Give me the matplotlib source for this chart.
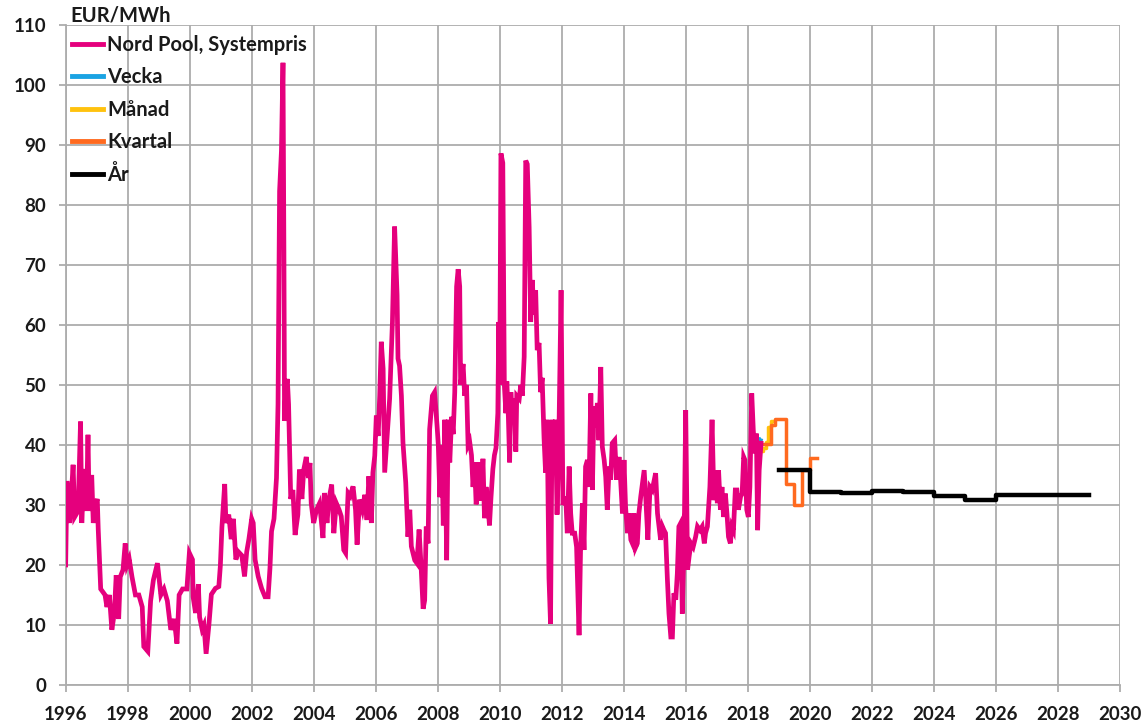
import matplotlib
matplotlib.use("Agg")
import matplotlib.pyplot as plt
import numpy as np

# ---------------- data ----------------
# Nord Pool system price (EUR/MWh)
sys_years_1 = [1996.00, 1996.04, 1996.13, 1996.24, 1996.29, 1996.40, 1996.48, 1996.52, 1996.59, 1996.67,
               1996.72, 1996.76, 1996.84, 1996.89, 1996.95, 1997.02, 1997.05, 1997.13, 1997.27, 1997.33,
               1997.41, 1997.49, 1997.57, 1997.63, 1997.71, 1997.76, 1997.85, 1997.92, 1997.98, 1998.05,
               1998.14, 1998.25, 1998.36, 1998.47, 1998.52, 1998.65, 1998.74, 1998.83, 1998.96, 1999.07,
               1999.17, 1999.28, 1999.39, 1999.50, 1999.59, 1999.66, 1999.77, 1999.91, 1999.99]
sys_price_1 = [20.0, 34.0, 27.0, 36.7, 28.0, 29.0, 43.9, 27.0, 36.0, 29.0,
               41.7, 29.0, 35.0, 27.0, 30.0, 31.0, 26.0, 16.0, 15.0, 13.0,
               15.0, 9.2, 12.0, 18.3, 11.0, 18.0, 19.2, 23.6, 20.0, 21.0,
               18.0, 15.0, 15.0, 13.0, 6.4, 5.6, 14.0, 17.5, 20.3, 15.0,
               16.0, 14.0, 9.2, 11.0, 6.9, 15.0, 16.0, 16.0, 22.0]

sys_years_2 = [2000.09, 2000.11, 2000.19, 2000.28, 2000.32, 2000.40, 2000.46, 2000.53, 2000.62, 2000.70,
               2000.83, 2000.94, 2000.99, 2001.04, 2001.13, 2001.17, 2001.26, 2001.34, 2001.41, 2001.49,
               2001.57, 2001.68, 2001.77, 2001.84, 2001.91, 2002.00, 2002.05, 2002.11, 2002.21, 2002.32,
               2002.43, 2002.53, 2002.59, 2002.64, 2002.72, 2002.80, 2002.85, 2002.90, 2002.96, 2003.01,
               2003.04, 2003.06, 2003.10, 2003.15, 2003.19, 2003.26, 2003.33, 2003.40, 2003.49, 2003.54,
               2003.62, 2003.68, 2003.76, 2003.83, 2003.88, 2003.92]
sys_price_2 = [20.9, 14.7, 12.0, 16.8, 11.3, 9.3, 10.0, 5.2, 10.0, 15.1,
               16.1, 16.4, 19.9, 26.3, 33.5, 27.0, 28.4, 24.3, 27.7, 20.9,
               22.2, 21.6, 18.1, 22.2, 24.3, 27.7, 27.0, 20.9, 18.1, 16.1,
               14.7, 14.7, 19.5, 25.6, 27.7, 34.5, 46.8, 82.3, 89.0, 103.7,
               72.0, 44.0, 49.5, 51.0, 46.8, 31.0, 32.5, 25.0, 28.4, 35.9,
               31.0, 35.9, 38.0, 34.5, 37.0, 30.3]

sys_years_3 = [2004.00, 2004.09, 2004.19, 2004.30, 2004.35, 2004.43, 2004.49, 2004.58, 2004.65, 2004.73,
               2004.82, 2004.89, 2004.97, 2005.03, 2005.11, 2005.18, 2005.27, 2005.35, 2005.40, 2005.48,
               2005.57, 2005.65, 2005.72, 2005.78, 2005.86, 2005.91, 2005.97, 2006.02, 2006.08, 2006.13,
               2006.18, 2006.24, 2006.29, 2006.37, 2006.45, 2006.54, 2006.61, 2006.69, 2006.72, 2006.77,
               2006.83, 2006.88, 2006.97, 2007.04, 2007.10, 2007.15, 2007.26, 2007.33, 2007.40, 2007.47,
               2007.53, 2007.58, 2007.63, 2007.69, 2007.74, 2007.83, 2007.90, 2007.98]
sys_price_3 = [27.0, 29.2, 30.3, 24.5, 32.0, 27.0, 30.9, 33.4, 25.3, 30.3,
               29.2, 28.1, 22.5, 22.0, 32.0, 31.5, 33.1, 29.2, 23.4, 30.9,
               29.2, 31.7, 27.5, 34.8, 27.0, 35.4, 38.2, 44.9, 41.5, 48.2,
               57.2, 52.7, 35.4, 41.5, 47.7, 60.5, 76.4, 65.0, 54.4, 53.2,
               48.2, 40.4, 33.7, 24.7, 29.2, 23.1, 20.8, 20.3, 25.9, 19.2,
               12.7, 14.1, 26.4, 23.6, 42.6, 48.2, 48.8, 43.2]

sys_years_4 = [2008.02, 2008.07, 2008.13, 2008.18, 2008.23, 2008.29, 2008.34, 2008.39, 2008.45, 2008.50,
               2008.55, 2008.61, 2008.66, 2008.71, 2008.74, 2008.82, 2008.87, 2008.93, 2008.98, 2009.03,
               2009.09, 2009.14, 2009.19, 2009.24, 2009.30, 2009.35, 2009.40, 2009.46, 2009.51, 2009.56,
               2009.62, 2009.67, 2009.72, 2009.78, 2009.83, 2009.88, 2009.94, 2009.97, 2010.00, 2010.04,
               2010.10, 2010.15, 2010.20, 2010.23, 2010.28, 2010.32, 2010.36, 2010.41, 2010.47, 2010.52,
               2010.55, 2010.63, 2010.68, 2010.73, 2010.79, 2010.84, 2010.89, 2010.95, 2011.00, 2011.05,
               2011.11, 2011.16, 2011.21, 2011.27, 2011.32, 2011.37, 2011.43, 2011.48, 2011.53, 2011.59,
               2011.64, 2011.69, 2011.74, 2011.80, 2011.85, 2011.90, 2011.98, 2012.04]
sys_price_4 = [40.0, 31.3, 40.0, 26.6, 44.2, 20.8, 44.2, 37.1, 44.7, 41.8,
               48.8, 66.4, 69.3, 66.4, 50.0, 53.5, 48.2, 50.0, 40.0, 40.6,
               38.3, 33.0, 37.1, 30.1, 32.5, 37.1, 30.7, 37.7, 27.8, 33.0,
               30.1, 26.6, 31.3, 36.0, 38.3, 39.5, 45.3, 60.5, 50.0, 88.6,
               87.0, 50.0, 45.3, 50.6, 44.7, 37.1, 48.8, 44.2, 47.7, 38.9,
               48.2, 47.7, 50.0, 48.2, 54.7, 87.4, 86.8, 76.3, 60.5, 67.5,
               61.7, 65.8, 55.8, 57.0, 48.8, 51.2, 41.2, 35.4, 44.2, 17.8,
               10.2, 44.2, 35.4, 44.2, 28.4, 38.3, 65.8, 30.0]

sys_years_5 = [2012.13, 2012.18, 2012.24, 2012.29, 2012.34, 2012.42, 2012.48, 2012.56, 2012.61, 2012.67,
               2012.72, 2012.77, 2012.83, 2012.88, 2012.94, 2012.99, 2013.04, 2013.10, 2013.15, 2013.20,
               2013.26, 2013.31, 2013.37, 2013.42, 2013.47, 2013.53, 2013.58, 2013.63, 2013.71, 2013.77,
               2013.85, 2013.90, 2013.96, 2014.01, 2014.06, 2014.12, 2014.17, 2014.23, 2014.28, 2014.33,
               2014.39, 2014.44, 2014.49, 2014.55, 2014.66, 2014.71, 2014.78, 2014.85, 2014.92, 2015.03,
               2015.09, 2015.14, 2015.19, 2015.25, 2015.30, 2015.35, 2015.41, 2015.46, 2015.52, 2015.57,
               2015.62, 2015.68, 2015.73, 2015.78, 2015.84, 2015.89, 2015.95, 2016.00]
sys_price_5 = [31.4, 25.3, 36.4, 28.6, 25.3, 25.3, 23.0, 8.3, 23.0, 30.3,
               22.5, 36.4, 37.5, 33.0, 48.6, 32.5, 46.4, 43.0, 47.0, 40.8,
               53.0, 39.7, 37.5, 34.7, 29.2, 36.4, 34.2, 40.3, 40.8, 34.2,
               38.0, 34.2, 28.6, 37.5, 29.7, 25.3, 28.6, 24.2, 23.6, 28.6,
               23.0, 23.6, 28.6, 31.4, 35.8, 31.4, 24.2, 33.0, 32.5, 35.3,
               28.6, 26.4, 24.2, 26.4, 25.8, 25.3, 17.5, 11.9, 8.0, 8.0,
               15.3, 14.2, 18.6, 26.4, 27.0, 11.9, 24.2, 45.8]

sys_years_6 = [2016.06, 2016.11, 2016.17, 2016.24, 2016.32, 2016.38, 2016.46, 2016.53, 2016.60, 2016.64,
               2016.70, 2016.78, 2016.85, 2016.91, 2016.97, 2017.02, 2017.06, 2017.12, 2017.17, 2017.22,
               2017.28, 2017.33, 2017.38, 2017.44, 2017.49, 2017.54, 2017.60, 2017.65, 2017.70, 2017.77,
               2017.82, 2017.87, 2017.91, 2017.97, 2018.02, 2018.07, 2018.13, 2018.18, 2018.23, 2018.28,
               2018.32, 2018.37, 2018.43]
sys_price_6 = [19.2, 21.4, 23.6, 23.0, 24.7, 26.4, 25.8, 26.4, 23.6, 25.3,
               26.4, 33.0, 44.2, 30.8, 35.8, 30.3, 35.8, 29.2, 33.0, 28.0,
               31.9, 28.6, 24.7, 23.6, 26.4, 25.8, 32.5, 32.5, 29.2, 31.4,
               31.9, 38.0, 37.5, 29.2, 28.0, 33.0, 48.6, 42.5, 38.6, 41.9,
               25.8, 35.8, 40.3]

# Forward prices
vecka_years = [2018.37, 2018.40, 2018.43]
vecka_price = [41.0, 40.3, 40.8]

manad_edges = [2018.42, 2018.50, 2018.58, 2018.67, 2018.75, 2018.83]
manad_price = [39.0, 39.5, 40.5, 43.0, 44.0]

kvartal_edges = [2018.45, 2018.75, 2018.88, 2019.25, 2019.50, 2019.75, 2020.00, 2020.25]
kvartal_price = [40.1, 43.3, 44.3, 33.5, 30.0, 35.8, 37.9]

ar_edges = [2019, 2020, 2021, 2022, 2023, 2024, 2025, 2026, 2029]
ar_price = [35.8, 32.2, 32.0, 32.4, 32.1, 31.5, 30.9, 31.7]

labels = ["Nord Pool, Systempris", "Vecka", "Månad", "Kvartal", "År"]
x_ticks = list(range(1996, 2031, 2))
y_ticks = list(range(0, 111, 10))

# ---------------- plot ----------------
FONT = "Lato"
plt.rcParams["font.family"] = [FONT, "DejaVu Sans"]

fig = plt.figure(figsize=(11.42, 7.24), dpi=100)
ax = fig.add_axes([0.0575, 0.0539, 0.9230, 0.9116])

sys_years = sys_years_1 + sys_years_2 + sys_years_3 + sys_years_4 + sys_years_5 + sys_years_6
sys_price = sys_price_1 + sys_price_2 + sys_price_3 + sys_price_4 + sys_price_5 + sys_price_6

c_pink = "#E5007D"
c_blue = "#1AA3E3"
c_yel = "#FFC20E"
c_orange = "#FF6A1F"
c_black = "#000000"

ax.plot(sys_years, sys_price, color=c_pink, lw=3.4, solid_joinstyle="miter", zorder=5, label=labels[0])
ax.plot(vecka_years, vecka_price, color=c_blue, lw=2.5, zorder=4, label=labels[1])
ax.plot(manad_edges, manad_price + [manad_price[-1]], drawstyle="steps-post", color=c_yel, lw=2.5,
        zorder=3, label=labels[2])
ax.plot(kvartal_edges, kvartal_price + [kvartal_price[-1]], drawstyle="steps-post", color=c_orange,
        lw=2.5, zorder=4, label=labels[3])
ax.plot(ar_edges, ar_price + [ar_price[-1]], drawstyle="steps-post", color=c_black, lw=3.2,
        zorder=6, label=labels[4])

ax.set_xlim(1996, 2030)
ax.set_ylim(0, 110)
ax.set_xticks(x_ticks)
ax.set_yticks(y_ticks)
grid_c = "#ADADAD"
ax.grid(True, color=grid_c, lw=1.3)
ax.set_axisbelow(True)
for s in ["top", "right"]:
    ax.spines[s].set_visible(False)
for s in ["left", "bottom"]:
    ax.spines[s].set_color(grid_c)
    ax.spines[s].set_linewidth(1.3)
ax.tick_params(axis="both", length=5, width=1.3, color=grid_c, labelsize=13.5,
               labelcolor="#1a1a1a")
ax.tick_params(axis="y", pad=9)
ax.tick_params(axis="x", pad=10)
for lab in ax.get_xticklabels() + ax.get_yticklabels():
    lab.set_fontweight("bold")

fig.text(70 / 1142, 1 - 15 / 724, "EUR/MWh", fontsize=14.5, fontweight="bold", color="#1a1a1a",
         ha="left", va="center")

leg = ax.legend(loc="upper left", bbox_to_anchor=(0.006, 0.985), frameon=False, fontsize=14.5,
                handlelength=1.55, handletextpad=0.2, labelspacing=0.62, borderaxespad=0.0,
                borderpad=0.0)
for t in leg.get_texts():
    t.set_fontweight("bold")
    t.set_color("#1a1a1a")
for h in leg.get_lines():
    h.set_linewidth(3.5)

fig.savefig("out.png", dpi=100)
